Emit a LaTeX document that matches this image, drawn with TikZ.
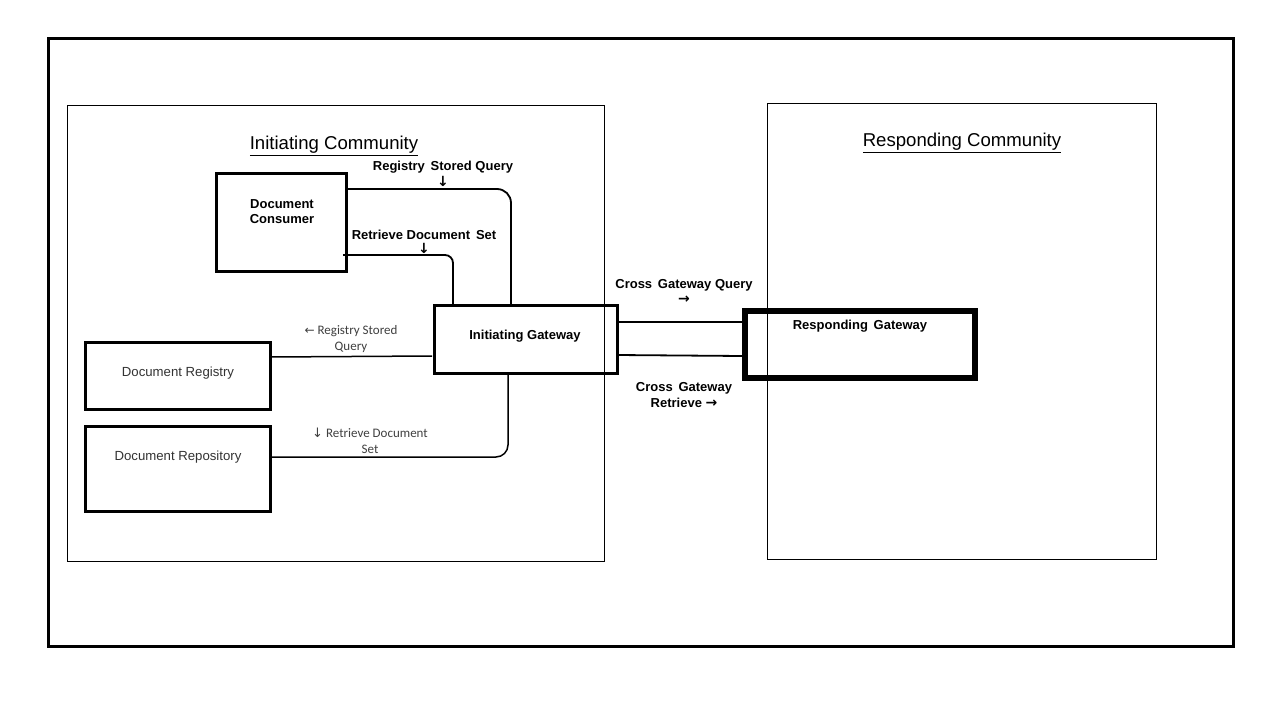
\documentclass[tikz,border=0pt]{standalone}
\usepackage{fontspec}
\setmainfont{Liberation Sans}
\newfontfamily\carlitofont{Carlito}
\newfontfamily\dvs{DejaVu Sans}
\begin{document}
\begin{tikzpicture}[x=1pt,y=-1pt,
  frame/.style={draw=black,line width=3pt},
  comm/.style={draw=black,line width=0.8pt},
  boxA/.style={draw=black,line width=3pt},
  lbl/.style={font=\fontsize{13}{15}\selectfont\bfseries,align=center,inner sep=0pt},
  slbl/.style={font=\carlitofont\fontsize{13}{16}\selectfont,text=black!75,align=center,inner sep=0pt},
  ttl/.style={font=\fontsize{18.6}{20}\selectfont,inner sep=0pt},
  wire/.style={draw=black,line width=1.8pt,rounded corners=14pt},
  arr/.style={font=\dvs\bfseries\fontsize{14}{15}\selectfont,inner sep=0pt},
]
\useasboundingbox (0,0) rectangle (1280,720);
\fill[white] (0,0) rectangle (1280,720);
% outer frame
\draw[frame] (48,38) rectangle (1233,646);
% communities
\draw[comm] (67,105) rectangle (604,561);
\draw[comm] (767,103) rectangle (1156,559);
\node[ttl] (ict) at (334,146) {\underline{Initiating Community}};
\node[ttl] (rct) at (962,143) {\underline{Responding Community}};
% boxes
\draw[boxA] (216,173) rectangle (346,271);
\node[lbl] (dc) at (282,212) {Document\\Consumer};
\coordinate (dcR1) at (346,189);
\coordinate (dcR2) at (343,255);
\draw[boxA] (434,305) rectangle (617,373);
\node[lbl] (ig) at (525,336) {Initiating Gateway};
\draw[boxA] (85,342) rectangle (270,409);
\node[inner sep=0pt,font=\fontsize{13.2}{15}\selectfont,text=black!80] (dreg) at (178,373) {Document Registry};
\draw[boxA] (85,426) rectangle (270,511);
\node[inner sep=0pt,font=\fontsize{13.2}{15}\selectfont,text=black!80] (drep) at (178,457) {Document Repository};
\draw[draw=black,line width=6pt] (745,311) rectangle (975,378);
\node[lbl] (rg) at (860,326) {Responding\, Gateway};
% connectors
\coordinate (igT1) at (511,305);
\coordinate (igT2) at (453,305);
\coordinate (igL) at (432,356);
\coordinate (igB) at (508,373);
\coordinate (igR1) at (617,322);
\coordinate (igR2) at (617,355);
\coordinate (regR) at (270,357);
\coordinate (repR) at (270,457);
\coordinate (rgL1) at (742,322);
\coordinate (rgL2) at (742,356);
\draw[wire] (dcR1) -- (511,189) -- (igT1);
\draw[wire,rounded corners=8pt] (dcR2) -- (453,255) -- (igT2);
\draw[wire,line width=1.5pt] (igL) -- (regR);
\draw[wire,line width=1.5pt,rounded corners=12pt] (igB) -- (508,457) -- (repR);
\draw[wire] (igR1) -- (rgL1);
\draw[wire] (igR2) -- (rgL2);
% labels
\node[lbl] (l1) at (443,167) {Registry\, Stored Query};
\node[arr] (a1) at (443,181) {↓};
\node[lbl] (l2) at (424,235) {Retrieve Document\, Set};
\node[arr] (a2) at (424,248) {↓};
\node[slbl] (l3) at (351,339) {{\dvs\fontsize{12}{12}\selectfont←} Registry Stored\\Query};
\node[slbl] (l4) at (370,441) {{\dvs\fontsize{13}{12}\selectfont↓} Retrieve Document\\Set};
\node[lbl] (l5) at (684,285) {Cross\, Gateway Query};
\node[arr,font=\dvs\bfseries\fontsize{14}{15}\selectfont] (a5) at (684,300) {→};
\node[lbl] (l6) at (684,395) {Cross\, Gateway\\[1pt]Retrieve {\dvs\bfseries\fontsize{14}{12}\selectfont→}};
\end{tikzpicture}
\end{document}
